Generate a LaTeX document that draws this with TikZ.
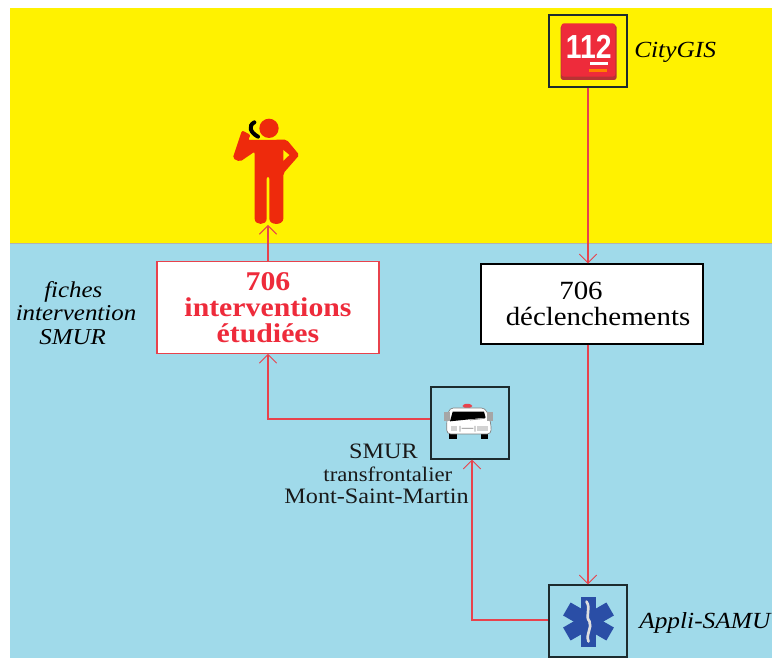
\documentclass[tikz,border=0pt]{standalone}
\usepackage{fontspec}
\setmainfont[FakeStretch=1.1]{Liberation Serif}
\newfontfamily\logofont[FakeStretch=0.85]{Liberation Sans}
\usetikzlibrary{arrows.meta}
\definecolor{bgyellow}{HTML}{FFF200}
\definecolor{bgblue}{HTML}{A0DAEA}
\definecolor{linkred}{HTML}{E8424C}
\definecolor{manred}{HTML}{EE2A0C}
\definecolor{redtext}{HTML}{EE2B3B}
\definecolor{starblue}{HTML}{2A4EA6}
\definecolor{boxdark}{HTML}{1C2B2E}
\tikzset{
  x=0.75pt,y=-0.75pt,
  link/.style={draw=linkred,line width=0.8pt},
  tip/.style={-{Straight Barb[length=6.5pt,width=13pt,line width=0.7pt]}},
  iconbox/.style={draw=boxdark,line width=1pt,minimum width=58.5pt,minimum height=54pt,inner sep=0pt},
  databox/.style={fill=white,line width=0.9pt,minimum width=166.5pt,inner sep=0pt,align=center},
  caption/.style={inner sep=0pt},
  plain/.style={font=\fontsize{16.5}{16}\selectfont,inner sep=0pt,align=center,text=black!90}
}
\begin{document}
\begin{tikzpicture}
\useasboundingbox (0,0) rectangle (772,659);
\fill[white] (0,0) rectangle (772,659);
\fill[bgyellow] (10,8) rectangle (772,243);
\fill[bgblue] (10,243) rectangle (772,658);
\draw[draw=gray!60,line width=0.5pt] (10,243) -- (772,243);

% icon boxes
\node[iconbox] (city) at (588,51) {};
\node[iconbox] (car) at (470,423) {};
\node[iconbox] (samu) at (588,621) {};

% data boxes
\node[databox,draw=linkred,minimum height=68.5pt,text=redtext,font=\fontsize{20.3}{19.5}\selectfont\bfseries] (etud) at (268,307.5) {706\\interventions\\étudiées};
\node[databox,draw=black,minimum height=60pt,font=\fontsize{19.7}{19}\selectfont] (decl) at (592,304) {706\hspace*{16.5pt}\\ \hspace*{9pt}déclenchements};

% person
\coordinate (man) at (268,225);
\begin{scope}[shift={(220,105)},x=0.25pt,y=-0.25pt]
  \fill[manred] (147,70) circle (29);
  \fill[manred,rounded corners=1.5pt] (38,160) -- (66,76) -- (92,90) -- (84,105) -- (200,104) -- (238,150) -- (190,205) -- (190,335)
     .. controls (190,362) and (148,362) .. (148,335) -- (148,215) -- (140,215) -- (140,335)
     .. controls (140,362) and (104,362) .. (104,335) -- (104,140) -- (60,170) -- cycle;
  \fill[bgyellow] (190,135) -- (208,150) -- (190,167) -- cycle;
  \draw[black,line width=3pt,line cap=round] (103,52) .. controls (84,62) and (90,82) .. (114,95);
\end{scope}

% 112 logo
\begin{scope}[shift={(540,0)},x=0.25pt,y=-0.25pt]
  \fill[black!35!red!80,rounded corners=2pt] (62,75) rectangle (230,240);
  \fill[redtext,rounded corners=2pt] (64,70) rectangle (226,230);
  \node[inner sep=0pt,text=white,font=\fontsize{25}{25}\logofont\bfseries\selectfont] (num) at (146,142) {112};
  \fill[white] (150,187) rectangle (205,195);
  \fill[orange] (148,207) rectangle (200,216);
\end{scope}

% ambulance
\begin{scope}[shift={(420,380)},x=0.25pt,y=-0.25pt]
  \fill[linkred,rounded corners=2pt] (128,72) rectangle (156,84);
  \fill[black] (88,160) rectangle (110,178);
  \fill[black] (182,160) rectangle (204,178);
  \fill[white,draw=gray,line width=0.5pt,rounded corners=3pt] (88,84) -- (196,84) -- (212,125) -- (214,162) -- (80,162) -- (80,125) -- cycle;
  \fill[gray!70] (72,96) rectangle (90,122);
  \fill[gray!70] (202,96) rectangle (219,122);
  \fill[black] (98,95) -- (192,95) -- (197,113) -- (90,124) -- cycle;
  \fill[gray!35] (92,138) rectangle (112,152);
  \fill[gray!35] (172,138) rectangle (205,152);
  \draw[gray,line width=0.5pt] (120,138) -- (120,155) (165,138) -- (165,155) (125,145) -- (160,145) (150,120) -- (195,115);
\end{scope}

% star of life
\begin{scope}[shift={(588.5,621.5)}]
  \foreach \a in {0,60,120}
    \fill[starblue,rotate=\a] (-7.5,-25) rectangle (7.5,25);
  \draw[gray!25,line width=2pt,line cap=round] (-2,-20) .. controls (3,-12) and (-4,-6) .. (1,0) .. controls (4,6) and (-3,12) .. (0,20);
\end{scope}

% connectors
\draw[link,tip] (city.south) -- (city.south |- decl.north);
\draw[link,tip] (samu.north |- decl.south) -- (samu.north);
\draw[link,tip] (samu.west |- 0,620) -| (car.south -| 472,0);
\draw[link,tip] (car.west |- 0,419) -| (etud.north |- etud.south);
\draw[link,tip] (etud.north) -- (man);

% labels
\node[caption,font=\fontsize{17.3}{18}\selectfont\itshape,anchor=west] (citycap) at (634,52) {CityGIS};
\node[caption,font=\fontsize{17.3}{18}\selectfont\itshape,anchor=west] (samucap) at (639,623) {Appli-SAMU};
\node[caption,align=center,font=\fontsize{17}{17.5}\selectfont\itshape] (fiches) at (76,313) {fiches\hspace*{4pt}\\intervention\\SMUR\hspace*{5pt}};
\node[plain,anchor=center] (smur) at (376.5,474) {\hspace*{10.5pt}SMUR\\[1pt]\hspace*{17pt}{\fontsize{15.5}{15}\selectfont transfrontalier}\\[1pt]Mont-Saint-Martin};
\end{tikzpicture}
\end{document}
